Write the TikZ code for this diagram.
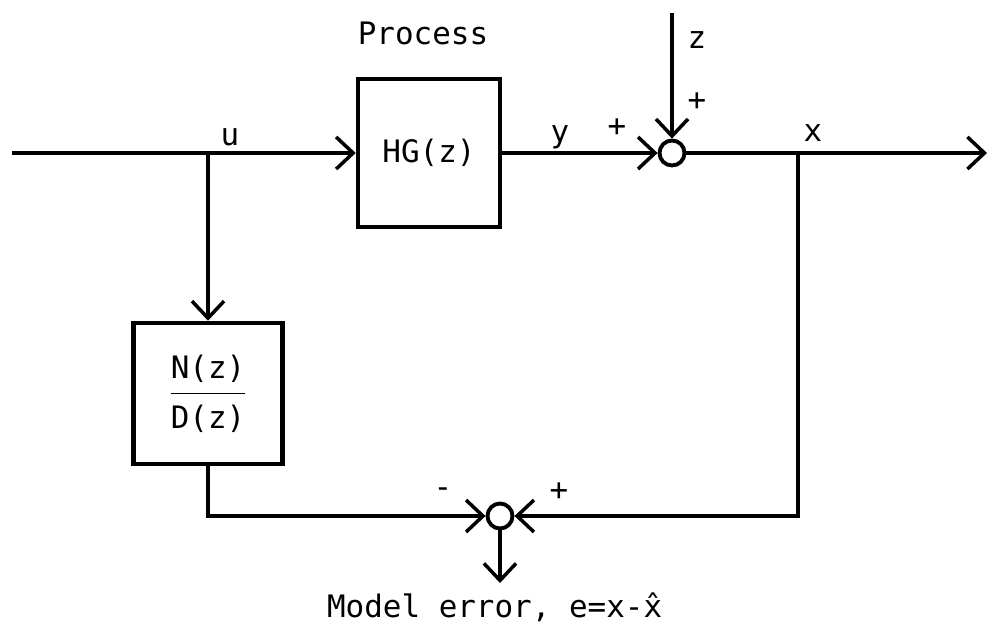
\documentclass[tikz,border=0pt]{standalone}
\usepackage{fontspec}
\setmonofont{DejaVu Sans Mono}
\usetikzlibrary{arrows.meta}
\renewcommand{\arraystretch}{1.4}
\begin{document}
\begin{tikzpicture}[line width=1pt, >={Straight Barb[length=1.7mm,width=3.2mm]},
  every node/.style={font=\ttfamily\fontsize{8.8}{10}\selectfont, inner sep=1.5pt},
  blk/.style={draw, line width=1.3pt, inner sep=0pt},
  sumc/.style={draw, circle, minimum size=0.25cm, inner sep=0pt, line width=1.1pt}]
  \useasboundingbox (0.000,0.000) rectangle (9.880,6.430);
  % main path
  \coordinate (in) at (0.120,4.900);
  \coordinate (usplit) at (2.080,4.900);
  \node[blk, minimum width=1.42cm, minimum height=1.48cm] (proc) at (4.290,4.900) {HG(z)};
  \node[sumc] (sum1) at (6.720,4.900) {};
  \coordinate (ztop) at (6.720,6.300);
  \coordinate (xsplit) at (7.980,4.900);
  \coordinate (out) at (9.870,4.900);
  % model path
  \node[blk, minimum width=1.49cm, minimum height=1.41cm] (model) at (2.080,2.495)
    {\begin{tabular}{@{}c@{}}N(z)\\\hline D(z)\end{tabular}};
  \node[sumc] (sum2) at (5.000,1.270) {};
  \coordinate (err) at (5.000,0.600);
  \draw (in) -- (usplit);
  \draw[->] (usplit) -- (proc);
  \draw[->] (proc) -- (sum1);
  \draw[->] (ztop) -- (sum1);
  \draw[->] (sum1) -- (out);
  \draw[->] (usplit) -- (model);
  \draw[->] (model) |- (sum2);
  \draw[->] (xsplit) |- (sum2);
  \draw[->] (sum2) -- (err);
  % labels
  \node (lproc) at (4.230,6.100) {Process};
  \node (lu) at (2.300,5.060) {u};
  \node (ly) at (5.600,5.060) {y};
  \node (lp1) at (6.170,5.150) {+};
  \node (lp2) at (6.970,5.410) {+};
  \node (lz) at (6.970,6.030) {z};
  \node (lx) at (8.130,5.100) {x};
  \node (lm) at (4.430,1.500) {-};
  \node (lp3) at (5.590,1.510) {+};
  \node[anchor=base west] (lerr) at (3.200,0.260) {Model error, e=x-\^{x}};
\end{tikzpicture}
\end{document}
